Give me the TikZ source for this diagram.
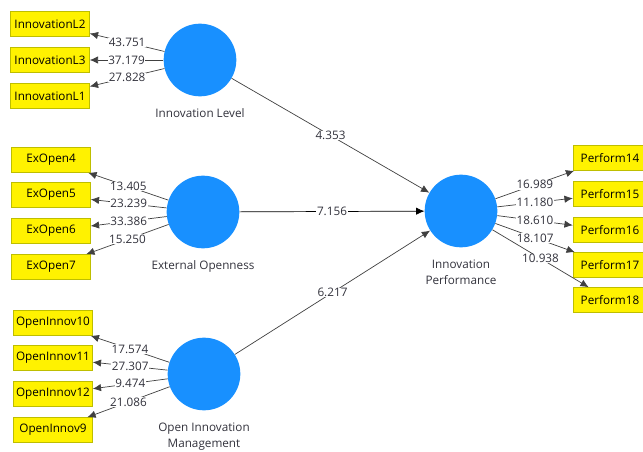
\documentclass[tikz,border=0pt]{standalone}
\usepackage{fontspec}
\setmainfont{Open Sans}
\usetikzlibrary{arrows.meta}
\definecolor{lvblue}{RGB}{24,144,255}
\definecolor{mvline}{RGB}{190,190,0}
\definecolor{txtgray}{RGB}{50,50,60}

\begin{document}
\begin{tikzpicture}[x=0.03cm, y=-0.03cm,
    latent/.style={circle, fill=lvblue, minimum size=2.18cm, inner sep=0pt},
    indic/.style={draw=mvline, fill=yellow, minimum width=2.37cm, minimum height=0.75cm, inner sep=1pt, font=\fontsize{10}{11}\selectfont},
    link/.style={draw=black!75, line width=0.6pt, -{Latex[length=2.5mm,width=2.2mm]}},
    val/.style={fill=white, inner sep=0.5pt, text=txtgray, font=\fontsize{10}{11}\selectfont},
    lvname/.style={align=center, text=txtgray, font=\fontsize{10}{13.5}\selectfont}]
    \useasboundingbox (0,0) rectangle (643,452);
    % latent variables
    \node[latent] (il) at (200,60) {};
    \node[latent] (eo) at (203,212) {};
    \node[latent] (oim) at (204,374) {};
    \node[latent] (ip) at (461,211) {};
    \node[lvname, below=7pt] (ilname) at (il.south) {Innovation Level};
    \node[lvname, below=7pt] (eoname) at (eo.south) {External Openness};
    \node[lvname, below=7pt] (oimname) at (oim.south) {Open Innovation\\Management};
    \node[lvname, below=7pt] (ipname) at (ip.south) {Innovation\\Performance};
    % indicators
    \foreach \n/\y/\v in {2/24/43.751, 3/60/37.179, 1/96/27.828}
    {
        \node[indic] (InnovationL\n) at (50,\y) {InnovationL\n};
        \draw[link] (il) -- node[val] {\v} (InnovationL\n);
    }
    \foreach \n/\y/\v in {4/160/13.405, 5/195/23.239, 6/231/33.386, 7/267/15.250}
    {
        \node[indic] (ExOpen\n) at (51,\y) {ExOpen\n};
        \draw[link] (eo) -- node[val] {\v} (ExOpen\n);
    }
    \foreach \n/\y/\v in {10/323/17.574, 11/358/27.307, 12/394/9.474, 9/430/21.086}
    {
        \node[indic] (OpenInnov\n) at (53,\y) {OpenInnov\n};
        \draw[link] (oim) -- node[val] {\v} (OpenInnov\n);
    }
    \foreach \n/\y/\v in {14/158/16.989, 15/194/11.180, 16/230/18.610, 17/265/18.107, 18/300/10.938}
    {
        \node[indic, minimum width=2.22cm] (Perform\n) at (610,\y) {Perform\n};
        \draw[link] (ip) -- node[val] {\v} (Perform\n);
    }
    % paths
    \draw[link] (il) -- node[val] {4.353} (ip);
    \draw[link, draw=black] (eo) -- node[val] {7.156} (ip);
    \draw[link] (oim) -- node[val] {6.217} (ip);
\end{tikzpicture}
\end{document}
